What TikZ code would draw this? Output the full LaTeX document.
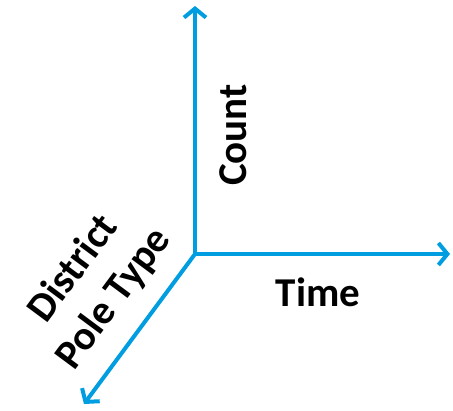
\documentclass[tikz,border=0pt]{standalone}
\usepackage{fontspec}
\setmainfont{Carlito}
\usepackage{tikz}
\usetikzlibrary{arrows.meta,positioning}
\definecolor{axisblue}{RGB}{0,158,224}

\begin{document}
\begin{tikzpicture}[x=1pt, y=-1pt, line width=4pt, line cap=round, line join=round]

\tikzstyle{axis}=[
    draw=axisblue,
    -{Straight Barb[length=9pt, width=22pt, line width=4pt]}
]
\tikzstyle{label}=[
    font=\fontsize{41}{50}\selectfont\bfseries,
    text=black,
    inner sep=0pt
]

\useasboundingbox (0,0) rectangle (453,411);

\coordinate (O) at (195,254);
\coordinate (Up) at (195,6);
\coordinate (Right) at (450,254);
\coordinate (Down) at (84,404);

\node[label, rotate=90] (Count) at (233,135) {Count};
\node[label] (Time) at (318,292) {Time};
\node[label, rotate=53.4, align=center] (Dist) at (94,284) {District\\Pole Type};

\path
(O) edge[axis] (Up)
(O) edge[axis] (Right)
(O) edge[axis] (Down);

\end{tikzpicture}
\end{document}
